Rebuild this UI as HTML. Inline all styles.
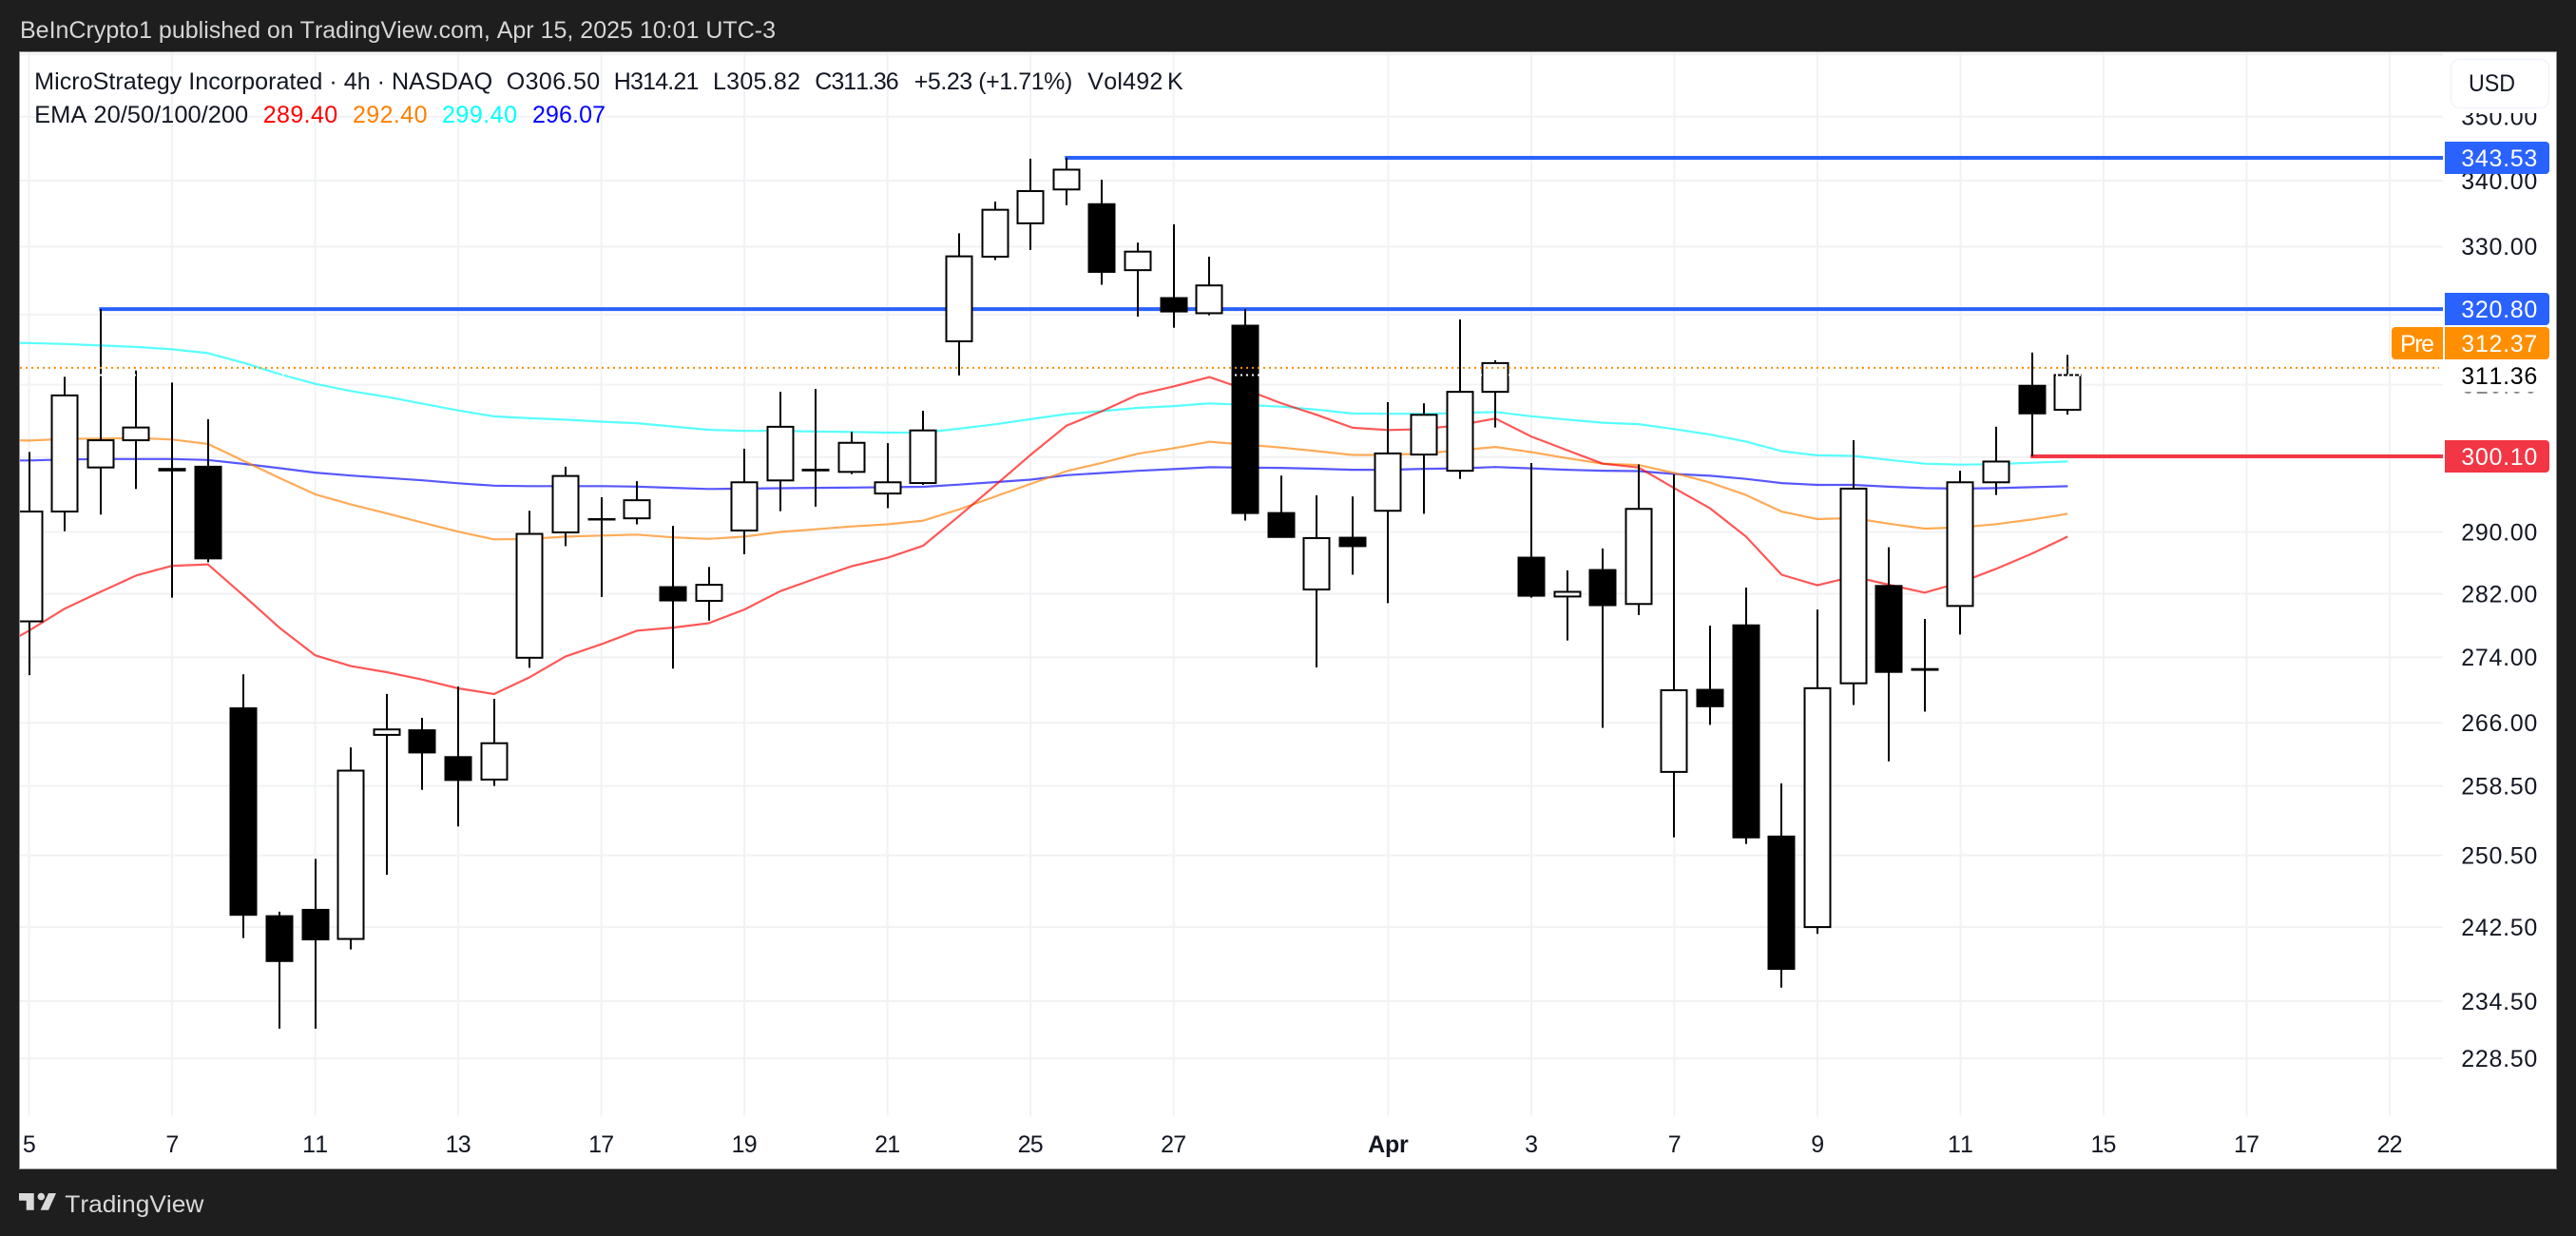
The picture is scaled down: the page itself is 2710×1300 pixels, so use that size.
<!DOCTYPE html>
<html lang="en">
<head>
<meta charset="utf-8">
<title>MicroStrategy 4h chart</title>
<style>
html,body{margin:0;padding:0;background:#1e1e1e;width:2710px;height:1300px;overflow:hidden}
svg{display:block}
text{font-family:"Liberation Sans",sans-serif;font-size:25px;fill:#131722;font-kerning:none;font-feature-settings:"kern" 0}
</style>
</head>
<body>
<svg id="chart" xmlns="http://www.w3.org/2000/svg" width="2710" height="1300" viewBox="0 0 2710 1300">
  <defs>
    <clipPath id="plot-clip"><rect x="21" y="55" width="2549" height="1119"/></clipPath>
  </defs>
  <rect x="0" y="0" width="2710" height="1300" fill="#1e1e1e"/>
  <text x="21" y="40" textLength="795" lengthAdjust="spacingAndGlyphs" style="fill:#d6d6d6">BeInCrypto1 published on TradingView.com, Apr 15, 2025 10:01 UTC-3</text>
  <rect x="20.5" y="54.5" width="2669" height="1175" fill="#ffffff" stroke="#8f8f8f" stroke-width="1"/>

  <g id="grid" clip-path="url(#plot-clip)"></g>
  <g id="emas" clip-path="url(#plot-clip)"></g>
  <g id="levels" clip-path="url(#plot-clip)"></g>
  <g id="candles" clip-path="url(#plot-clip)"></g>
  <g id="priceLines" clip-path="url(#plot-clip)"></g>

  <g id="priceAxis"></g>
  <g id="timeAxis"></g>

  <rect x="2572" y="55" width="116" height="64" fill="#ffffff"/>
  <rect x="2578.5" y="62.5" width="103" height="51" rx="9" fill="#ffffff" stroke="#f0f3fa" stroke-width="1.5"/>
  <text x="2597" y="96" textLength="49" lengthAdjust="spacingAndGlyphs">USD</text>

  <path d="M2572 149h106a4 4 0 0 1 4 4v26a4 4 0 0 1-4 4h-106z" fill="#2962ff"/>
  <text x="2589.3" y="175" textLength="80" lengthAdjust="spacing" style="fill:#ffffff">343.53</text>
  <path d="M2572 308h106a4 4 0 0 1 4 4v26a4 4 0 0 1-4 4h-106z" fill="#2962ff"/>
  <text x="2589.3" y="334" textLength="80" lengthAdjust="spacing" style="fill:#ffffff">320.80</text>
  <path d="M2570 344h-50a4 4 0 0 0-4 4v26a4 4 0 0 0 4 4h50z" fill="#ff8f00"/>
  <text x="2525" y="370" textLength="36" lengthAdjust="spacing" style="fill:#ffffff">Pre</text>
  <path d="M2572 344h106a4 4 0 0 1 4 4v26a4 4 0 0 1-4 4h-106z" fill="#ff8f00"/>
  <text x="2589.3" y="370" textLength="80" lengthAdjust="spacing" style="fill:#ffffff">312.37</text>
  <rect x="2572" y="378" width="110" height="34.5" fill="#ffffff"/>
  <text x="2589.3" y="404" textLength="80" lengthAdjust="spacing" style="fill:#000000">311.36</text>
  <path d="M2572 463h106a4 4 0 0 1 4 4v26a4 4 0 0 1-4 4h-106z" fill="#f23645"/>
  <text x="2589.3" y="489" textLength="80" lengthAdjust="spacing" style="fill:#ffffff">300.10</text>

  <g>
    <text x="36.2" y="94" textLength="482" lengthAdjust="spacingAndGlyphs">MicroStrategy Incorporated · 4h · NASDAQ</text>
    <text x="532.7" y="94" textLength="98.5" lengthAdjust="spacing">O306.50</text>
    <text x="645.8" y="94" textLength="89.6" lengthAdjust="spacing">H314.21</text>
    <text x="750" y="94" textLength="92" lengthAdjust="spacing">L305.82</text>
    <text x="857.3" y="94" textLength="88.4" lengthAdjust="spacing">C311.36</text>
    <text x="961.7" y="94" textLength="166.6" lengthAdjust="spacing">+5.23 (+1.71%)</text>
    <text x="1144.3" y="94" textLength="79" lengthAdjust="spacing">Vol492</text>
    <text x="1228" y="94">K</text>
    <text x="36.2" y="129" textLength="225" lengthAdjust="spacingAndGlyphs">EMA 20/50/100/200</text>
    <text x="276.7" y="129" textLength="78.5" lengthAdjust="spacing" style="fill:#ff0000">289.40</text>
    <text x="371" y="129" textLength="78.5" lengthAdjust="spacing" style="fill:#ff7f00">292.40</text>
    <text x="465" y="129" textLength="79" lengthAdjust="spacing" style="fill:#00ffff">299.40</text>
    <text x="560" y="129" textLength="77" lengthAdjust="spacing" style="fill:#0000ff">296.07</text>
  </g>

  <g>
    <path d="M20 1255h15.7v17.7h-8v-10h-7.7z" fill="#d9d9d9"/>
    <circle cx="43.3" cy="1258.6" r="3.8" fill="#d9d9d9"/>
    <path d="M51 1255h8l-8 17.7h-8.4z" fill="#d9d9d9"/>
    <text x="68.3" y="1275" textLength="146" lengthAdjust="spacingAndGlyphs" style="fill:#d9d9d9">TradingView</text>
  </g>
</svg>

<script>
// ---- chart data ----
const opens  = [276,278.5,292.7,298.6,302.3,298.4,298.7,267.75,243.7,244.4,241.2,264.55,265.1,261.9,259.25,273.95,289.95,291.65,291.8,282.85,281.1,290.2,296.85,298.2,298.0,295.1,296.5,316.15,328.5,333.5,338.65,336.4,326.5,322.4,320.2,318.4,292.5,282.55,289.25,292.8,300.35,298.15,309.0,286.65,281.65,285.05,280.7,260.15,270.0,278.0,252.65,242.5,270.8,283.0,272.45,280.45,296.6,309.85,306.5];
const highs  = [290,300.7,311.1,320.8,312.0,310.3,305.2,271.9,244.2,250.1,263.05,269.5,266.6,270.4,268.9,292.8,298.7,294.6,296.75,290.8,285.45,301.15,309.0,309.4,303.45,301.9,306.35,332.0,336.8,343.4,343.55,340.15,330.6,333.35,328.5,320.8,297.5,294.85,294.7,307.55,307.4,319.3,313.45,299.2,285.0,287.85,299.0,297.65,277.95,282.8,258.8,280.0,302.3,288.0,278.8,298.15,304.15,314.55,314.21];
const lows   = [274,271.8,290.1,292.3,295.7,281.5,286.05,241.3,231.6,231.6,240.05,248.3,258.05,253.8,258.5,272.7,288.15,281.6,291.0,272.6,278.6,287.1,292.75,293.35,297.7,293.15,296.25,311.3,328.0,329.5,336.25,324.35,319.7,318.1,319.9,291.5,289.25,272.75,284.45,280.8,292.4,297.05,304.05,281.5,276.1,265.4,279.3,252.55,265.75,251.8,235.95,241.75,268.15,261.4,267.35,276.85,294.9,300.1,305.82];
const closes = [287,292.7,308.5,302.3,304.05,298.2,286.55,243.85,238.8,241.15,260.3,265.2,262.45,259.2,263.55,289.75,297.45,291.7,294.2,281.15,283.15,296.6,304.15,298.3,301.95,296.6,303.65,328.55,335.55,338.4,341.7,326.25,329.25,320.45,324.25,292.5,289.35,289.2,288.15,300.5,305.8,309.0,313.05,281.75,282.25,280.55,293.05,269.95,268.0,252.55,237.95,270.2,295.75,272.2,272.55,296.6,299.4,306.0,311.36];
const ema20  = [274.86,277.33,280.12,282.26,284.36,285.6,285.78,281.76,277.7,274.24,272.91,272.16,271.25,270.18,269.48,271.55,274.12,275.63,277.33,277.72,278.27,280.0,282.33,283.96,285.54,286.63,288.21,292.1,296.14,300.31,304.29,306.32,308.6,309.76,311.07,309.35,307.43,305.8,304.01,303.7,303.83,304.39,305.29,302.82,300.94,299.11,298.6,295.82,293.12,289.41,284.44,283.08,284.21,283.16,282.15,283.44,285.21,287.19,289.40];
const ema50  = [302.36,302.26,302.47,302.53,302.6,302.4,301.8,299.48,297.18,294.99,293.63,292.46,291.23,290.04,289.03,289.09,289.4,289.53,289.66,289.3,289.1,289.39,290.01,290.35,290.73,291.0,291.49,292.98,294.68,296.38,298.09,299.23,300.47,301.21,302.1,301.71,301.31,300.82,300.3,300.3,300.5,300.94,301.38,300.68,299.86,299.11,298.93,297.85,296.56,294.9,292.69,291.7,291.83,291.1,290.44,290.61,291.03,291.65,292.40];
const ema100 = [315.95,315.9,315.77,315.55,315.35,315.01,314.46,313.08,311.5,310.12,309.11,308.3,307.35,306.41,305.59,305.33,305.13,304.85,304.65,304.19,303.74,303.59,303.59,303.49,303.44,303.35,303.35,303.89,304.49,305.19,305.91,306.32,306.77,307.02,307.38,307.18,306.93,306.52,305.99,305.94,305.94,306.05,306.19,305.6,305.15,304.71,304.52,303.83,303.07,302.13,300.81,300.24,300.17,299.62,299.11,298.98,299.04,299.24,299.40];
const ema200 = [299.54,299.55,299.68,299.74,299.74,299.74,299.61,299.08,298.5,297.9,297.5,297.18,296.86,296.47,296.15,296.09,296.09,296.09,296.02,295.86,295.71,295.76,295.8,295.86,295.9,295.95,296.0,296.29,296.62,296.96,297.55,297.85,298.14,298.38,298.63,298.58,298.54,298.43,298.29,298.29,298.42,298.48,298.66,298.48,298.29,298.16,298.11,297.72,297.48,297.05,296.5,296.25,296.25,296.01,295.82,295.76,295.82,295.95,296.07];
const priceTicks = [350,340,330,320,310,290,282,274,266,258.5,250.5,242.5,234.5,228.5];
const priceTickLabels = ["350.00","340.00","330.00","","310.00","290.00","282.00","274.00","266.00","258.50","250.50","242.50","234.50","228.50"];
const gridOnlyPrices = [360,300];
const timeTickBars = [1,5,9,13,17,21,25,29,33,39,43,47,51,55,59,63,67];
const timeTickLabels = ["5","7","11","13","17","19","21","25","27","Apr","3","7","9","11","15","17","22"];
const resistanceLevels = [343.53,320.80];
const resistanceStartBars = [30,3];
const supportLevel = 300.10;
const supportStartBar = 57;
const premarketPrice = 312.37;
const lastClose = 311.36;

// ---- axis functions ----
const SVGNS = 'http://www.w3.org/2000/svg';
function priceToY(p){ return 122.7 + (Math.log(350) - Math.log(p)) * 2323; }
function barX(i){ return -7.03 + 37.627 * i; }
function make(tag, attrs, parent){
  const el = document.createElementNS(SVGNS, tag);
  for (const k in attrs) el.setAttribute(k, attrs[k]);
  parent.appendChild(el);
  return el;
}
const PLOT_L = 21, PLOT_R = 2570, PLOT_T = 55, PLOT_B = 1173.5;

// ---- grid ----
const grid = document.getElementById('grid');
priceTicks.concat(gridOnlyPrices).forEach(function(p){
  const y = priceToY(p);
  const l = make('line', {x1:PLOT_L, x2:PLOT_R, y1:y, y2:y, stroke:'#f1f2f4', 'stroke-width':2}, grid);
  
  
});
timeTickBars.forEach(function(b){
  const x = barX(b);
  const l = make('line', {x1:x, x2:x, y1:PLOT_T, y2:PLOT_B, stroke:'#f1f2f4', 'stroke-width':2}, grid);
  
  
});

// ---- EMA lines ----
const emas = document.getElementById('emas');
[[ema100,'#00ffff','ema-100-line'],[ema200,'#0000ff','ema-200-line'],[ema50,'#ff7f00','ema-50-line'],[ema20,'#ff0000','ema-20-line']].forEach(function(s){
  const pts = s[0].map(function(v,i){ return barX(i).toFixed(1)+','+priceToY(v).toFixed(1); }).join(' ');
  const pl = make('polyline', {points:pts, fill:'none', stroke:s[1], 'stroke-width':2.2, 'stroke-opacity':0.66, 'stroke-linejoin':'round'}, emas);
  
  
});

// ---- level lines ----
const levels = document.getElementById('levels');
resistanceLevels.forEach(function(p,i){
  const y = priceToY(p);
  const l = make('line', {x1:barX(resistanceStartBars[i])-1.5, x2:PLOT_R, y1:y, y2:y, stroke:'#2962ff', 'stroke-width':4}, levels);
  
  
});
(function(){
  const y = priceToY(supportLevel);
  const l = make('line', {x1:barX(supportStartBar)-1.5, x2:PLOT_R, y1:y, y2:y, stroke:'#f23645', 'stroke-width':4}, levels);
  
  
})();

// ---- candles ----
const candles = document.getElementById('candles');
closes.forEach(function(c,i){
  const x = Math.round(barX(i));
  const o = opens[i];
  const up = c >= o;
  const g = make('g', {}, candles);
  
  
  const wick = make('line', {x1:x, x2:x, y1:priceToY(highs[i]), y2:priceToY(lows[i]), stroke:'#000000', 'stroke-width':2}, g);
  
  
  const top = priceToY(Math.max(o,c));
  const bot = priceToY(Math.min(o,c));
  const body = make('rect', {x:x-13.5, y:top, width:27, height:Math.max(bot-top,0.5), fill:up?'#ffffff':'#000000', stroke:'#000000', 'stroke-width':2}, g);
  
  
});

// ---- price lines ----
const priceLines = document.getElementById('priceLines');
(function(){
  const y1 = priceToY(premarketPrice);
  const a = make('line', {x1:PLOT_L, x2:2566, y1:y1, y2:y1, stroke:'#fb8c00', 'stroke-width':2, 'stroke-dasharray':'2 4'}, priceLines);
  
  
  const y2 = priceToY(lastClose);
  const b = make('line', {x1:PLOT_L, x2:2566, y1:y2, y2:y2, stroke:'#ffffff', 'stroke-width':2, 'stroke-dasharray':'2 4'}, priceLines);
  
  
})();

// ---- axes ----
const priceAxis = document.getElementById('priceAxis');
priceTicks.forEach(function(p,i){
  if (!priceTickLabels[i]) return;
  const t = make('text', {x:2589.3, y:priceToY(p)+8.8, textLength:80, lengthAdjust:'spacing'}, priceAxis);
  
  
  t.textContent = priceTickLabels[i];
});
const timeAxis = document.getElementById('timeAxis');
timeTickBars.forEach(function(b,i){
  const label = timeTickLabels[i];
  const isMonth = label === 'Apr';
  const w = isMonth ? 42.5 : (label.length > 1 ? 27 : 13.5);
  const t = make('text', {x:barX(b)-w/2, y:1212, textLength:w, lengthAdjust:'spacing'}, timeAxis);
  if (isMonth) t.setAttribute('style', 'font-weight:bold');
  
  
  t.textContent = label;
});
</script>
</body>
</html>
